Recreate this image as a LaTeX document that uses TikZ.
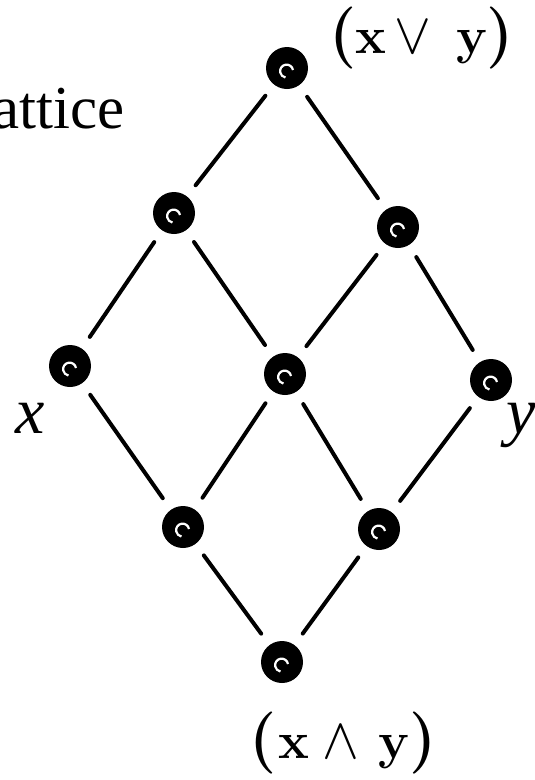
\documentclass[tikz,border=0pt]{standalone}
\usepackage{fontspec}
\setmainfont{Liberation Serif}
\newfontfamily\lmfont{Latin Modern Roman}
\newfontfamily\lmmath{Latin Modern Math}
\newcommand{\gl}[1]{\makebox[0pt][c]{#1}}
\newcommand{\bigparen}[1]{\gl{\lmfont\bfseries\fontsize{62}{62}\selectfont #1}}
\newcommand{\bvar}[1]{\gl{\lmfont\bfseries\fontsize{52}{52}\selectfont #1}}
\newcommand{\bop}[1]{\gl{\lmmath\fontsize{58}{58}\selectfont #1}}
\begin{document}
\begin{tikzpicture}[x=1pt,y=-1pt,
  dot/.style={circle, fill=black, minimum size=42pt, inner sep=0pt,
    path picture={\draw[white, line width=2.2pt]
      ([shift={(6pt,-2pt)}]path picture bounding box.center)
      arc[start angle=10, end angle=260, radius=6.5pt];}},
  edge/.style={line width=4pt, line cap=round, shorten <=14pt, shorten >=14pt},
  lab/.style={inner sep=0pt, anchor=base west},
  var/.style={inner sep=0pt, anchor=base, font=\itshape\fontsize{66}{66}\selectfont}
]
\useasboundingbox (0,0) rectangle (535,780);

% nodes
\node[dot] (top) at (287,68) {};
\node[dot] (l2l) at (174,213) {};
\node[dot] (l2r) at (398,227) {};
\node[dot] (nx) at (70,366) {};
\node[dot] (mid) at (285,374) {};
\node[dot] (ny) at (491,380) {};
\node[dot] (l4l) at (183,527) {};
\node[dot] (l4r) at (379,529) {};
\node[dot] (bot) at (282,662) {};

% edges
\draw[edge] (top) -- (l2l);
\draw[edge] (top) -- (l2r);
\draw[edge] (l2l) -- (nx);
\draw[edge] (l2l) -- (mid);
\draw[edge] (l2r) -- (mid);
\draw[edge] (l2r) -- (ny);
\draw[edge] (nx) -- (l4l);
\draw[edge] (mid) -- (l4l);
\draw[edge] (mid) -- (l4r);
\draw[edge] (ny) -- (l4r);
\draw[edge] (l4l) -- (bot);
\draw[edge] (l4r) -- (bot);

% labels
\node[inner sep=0pt, anchor=base west, font=\fontsize{61}{61}\selectfont] (title) at (-45,128) {Lattice};
\node[var] (xlab) at (30,433) {x};
\node[var] (ylab) at (521,433) {y};

\node[lab] (joinlab) at (343,53) {%
  \bigparen{(}\hspace{28pt}\bvar{x}\hspace{42pt}\bop{∨}\hspace{59pt}\bvar{y}\hspace{28pt}\bigparen{)}};

\node[lab] (meetlab) at (263,758) {%
  \bigparen{(}\hspace{31pt}\bvar{x}\hspace{47pt}\bop{∧}\hspace{53pt}\bvar{y}\hspace{29pt}\bigparen{)}};
\end{tikzpicture}
\end{document}
